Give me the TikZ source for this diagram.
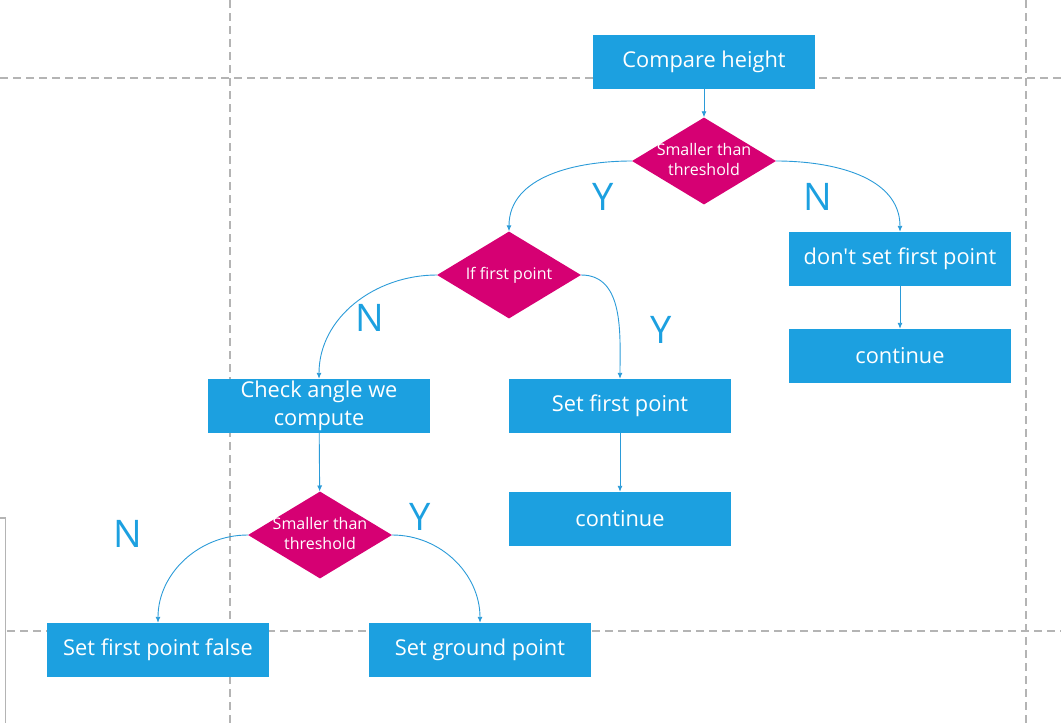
\documentclass[tikz,border=0pt]{standalone}
\usepackage{fontspec}
\setmainfont{Open Sans}[Ligatures=TeXOff]
\usetikzlibrary{shapes.geometric,arrows.meta}
\definecolor{boxblue}{HTML}{1CA0E0}
\definecolor{decmag}{HTML}{D60073}
\definecolor{linkblue}{HTML}{2B9BD8}
\definecolor{guidegray}{HTML}{B4B4B4}

\begin{document}
\begin{tikzpicture}[x=1pt,y=-1pt,
	stepbox/.style={rectangle,fill=boxblue,text=white,inner sep=0pt,minimum width=222pt,minimum height=54pt,align=center,font=\fontsize{21.8}{28}\selectfont},
	decision/.style={diamond,fill=decmag,inner sep=0pt,minimum width=144pt,minimum height=87pt},
	dtext/.style={text=white,align=center,font=\fontsize{16}{20}\selectfont},
	link/.style={draw=linkblue,line width=0.9pt,-{Latex[length=6pt,width=5pt]}},
	answer/.style={text=boxblue,font=\fontsize{38}{40}\selectfont},
	guide/.style={guidegray,line width=1.2pt,dash pattern=on 8pt off 5pt}]
	\useasboundingbox (0,0) rectangle (1061,723);
	% guide lines
	\draw[guide] (230,0) -- (230,723);
	\draw[guide] (1026,0) -- (1026,723);
	\draw[guide] (0,78) -- (1061,78);
	\draw[guide] (7,631) -- (1061,631);
	\draw[guidegray,line width=1.2pt] (0,518) -- (5.5,518) -- (5.5,723);
	% boxes
	\node[stepbox] (cmp) at (704,62) {Compare height};
	\node[decision] (hgt) at (704,161) {};
	\node[dtext] at ([yshift=2pt]hgt) {Smaller than\\threshold};
	\node[decision] (fst) at (509,275) {};
	\node[dtext] at (fst) {If first point};
	\node[stepbox] (dont) at (900,259) {don't set first point};
	\node[stepbox] (cont1) at (900,356) {continue};
	\node[stepbox] (chk) at (319,406) {Check angle we\\compute};
	\node[stepbox] (setf) at (620,406) {Set first point};
	\node[stepbox] (cont2) at (620,519) {continue};
	\node[decision] (ang) at (320,535) {};
	\node[dtext] at ([yshift=2pt]ang) {Smaller than\\threshold};
	\node[stepbox] (sfalse) at (158,650) {Set first point false};
	\node[stepbox] (sgnd) at (480,650) {Set ground point};
	% connectors
	\draw[link] (cmp) -- (hgt);
	\draw[link] (hgt.west) to[out=180,in=90] (fst.north);
	\draw[link] (hgt.east) to[out=0,in=90] (dont.north);
	\draw[link] (dont) -- (cont1);
	\draw[link] (fst.west) to[out=180,in=90] (chk.north);
	\draw[link] (fst.east) to[out=0,in=90] (setf.north);
	\draw[link] (setf) -- (cont2);
	\draw[link] (chk) -- (ang);
	\draw[link] (ang.west) to[out=180,in=90] (sfalse.north);
	\draw[link] (ang.east) to[out=0,in=90] (sgnd.north);
	% answers
	\node[answer] (y1) at (603,197) {Y};
	\node[answer] (n1) at (818,197) {N};
	\node[answer] (n2) at (370,318) {N};
	\node[answer] (y2) at (661,330) {Y};
	\node[answer] (n3) at (128,534) {N};
	\node[answer] (y3) at (420,517) {Y};
\end{tikzpicture}
\end{document}
